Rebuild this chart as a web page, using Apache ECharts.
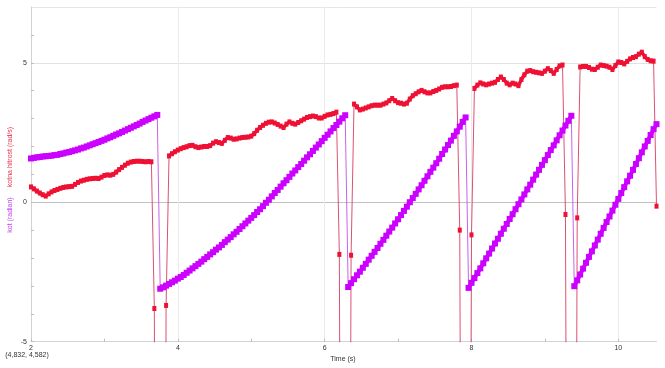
<!DOCTYPE html>
<html><head><meta charset="utf-8">
<script src="https://cdn.jsdelivr.net/npm/echarts@6/dist/echarts.min.js"></script>
<style>html,body{margin:0;padding:0;background:#fff}#c{width:665px;height:368px}</style>
</head><body><div id="c"></div>
<script>
// sample clock of the logger
const t0 = 2.0;   // s, first sample
const dt = 0.04;  // s, sample spacing

// kot (radian) – one row = 10 samples = 0.4 s
const kotRadian = [
  1.57,1.59,1.61,1.62,1.64,1.65,1.66,1.67,1.69,1.70,
  1.73,1.75,1.78,1.80,1.83,1.86,1.89,1.93,1.96,2.00,
  2.04,2.08,2.12,2.16,2.20,2.24,2.29,2.33,2.38,2.43,
  2.47,2.52,2.57,2.62,2.67,2.72,2.77,2.82,2.88,2.93,
  2.98,3.03,3.08,3.13,-3.10,-3.05,-2.99,-2.93,-2.87,-2.81,
  -2.74,-2.68,-2.61,-2.53,-2.45,-2.37,-2.29,-2.21,-2.13,-2.04,
  -1.96,-1.87,-1.79,-1.70,-1.62,-1.53,-1.43,-1.34,-1.25,-1.15,
  -1.06,-0.96,-0.86,-0.76,-0.66,-0.56,-0.46,-0.35,-0.25,-0.14,
  -0.02,0.09,0.21,0.33,0.44,0.56,0.68,0.79,0.91,1.03,
  1.14,1.26,1.37,1.49,1.61,1.72,1.84,1.96,2.07,2.19,
  2.31,2.42,2.54,2.66,2.77,2.89,3.01,3.12,-3.04,-2.90,
  -2.76,-2.62,-2.49,-2.35,-2.21,-2.06,-1.92,-1.78,-1.64,-1.49,
  -1.35,-1.20,-1.05,-0.91,-0.76,-0.61,-0.46,-0.31,-0.16,0.00,
  0.15,0.30,0.46,0.61,0.77,0.93,1.09,1.24,1.40,1.56,
  1.73,1.89,2.05,2.21,2.38,2.54,2.71,2.88,3.04,-3.07,
  -2.89,-2.72,-2.54,-2.37,-2.19,-2.01,-1.84,-1.66,-1.48,-1.31,
  -1.13,-0.95,-0.78,-0.60,-0.43,-0.25,-0.07,0.10,0.28,0.46,
  0.63,0.81,0.99,1.16,1.34,1.51,1.69,1.87,2.04,2.22,
  2.40,2.57,2.75,2.92,3.10,-3.01,-2.80,-2.59,-2.38,-2.17,
  -1.96,-1.76,-1.55,-1.34,-1.13,-0.92,-0.71,-0.51,-0.30,-0.09,
  0.12,0.33,0.54,0.75,0.95,1.16,1.37,1.58,1.79,2.00,
  2.20,2.41,2.62,2.80
];

// kotna hitrost (rad/s) – one row = 10 samples = 0.4 s
const kotnaHitrost = [
  0.55,0.48,0.40,0.33,0.27,0.22,0.30,0.37,0.42,0.46,
  0.50,0.53,0.55,0.56,0.57,0.64,0.71,0.76,0.79,0.82,
  0.84,0.85,0.86,0.85,0.90,0.96,0.98,0.97,1.00,1.08,
  1.17,1.25,1.33,1.40,1.44,1.46,1.47,1.47,1.46,1.45,
  1.46,1.45,-3.81,-40,-60,-40,-3.70,1.66,1.74,1.81,
  1.87,1.92,1.96,1.99,2.03,2.04,1.99,1.96,1.98,2.00,
  2.00,2.03,2.12,2.17,2.14,2.11,2.22,2.32,2.30,2.26,
  2.27,2.30,2.32,2.33,2.34,2.37,2.46,2.58,2.68,2.76,
  2.83,2.87,2.88,2.84,2.79,2.73,2.68,2.80,2.88,2.83,
  2.80,2.86,2.92,2.98,3.04,3.07,3.09,3.07,3.02,3.02,
  3.08,3.13,3.15,3.18,3.23,-1.87,-30,-50,-30,-1.90,
  3.52,3.42,3.31,3.34,3.38,3.42,3.46,3.48,3.48,3.48,
  3.52,3.56,3.64,3.72,3.64,3.57,3.55,3.52,3.55,3.70,
  3.82,3.89,3.96,4.01,3.96,3.92,3.92,3.97,4.01,4.06,
  4.12,4.14,4.14,4.15,4.18,4.20,-1.00,-30,-50,-30,
  -1.17,4.08,4.20,4.28,4.24,4.21,4.24,4.27,4.30,4.40,
  4.49,4.40,4.27,4.21,4.27,4.24,4.18,4.40,4.57,4.70,
  4.72,4.68,4.66,4.64,4.62,4.70,4.79,4.72,4.62,4.76,
  4.89,4.92,-0.44,-30,-50,-30,-0.56,4.85,4.87,4.87,
  4.83,4.77,4.76,4.84,4.92,4.90,4.88,4.84,4.76,4.90,
  5.03,5.01,4.96,5.05,5.14,5.19,5.22,5.31,5.38,5.22,
  5.12,5.07,5.06,-0.14
];

const xTickLabels = [2, 4, 6, 8, 10];
const yTickLabels = [-5, 0, 5];
const xRange = [2, 10.52];
const yRange = [-5, 7];

const FONT = '"Liberation Sans", Arial, sans-serif';
const timeOf = i => +(t0 + i * dt).toFixed(2);
const pairs = arr => arr.map((v, i) => [timeOf(i), v]);
// same samples, with the heavy trace interrupted where consecutive samples jump (wrap / derivative spike)
const pairsBroken = (arr, jump) => {
  const out = [];
  arr.forEach((v, i) => {
    if (i > 0 && Math.abs(v - arr[i - 1]) > jump) out.push([timeOf(i) - dt / 2, null]);
    out.push([timeOf(i), v]);
  });
  return out;
};

const PURPLE = '#cc00ff';
const RED = '#ee1133';

const chart = echarts.init(document.getElementById('c'), null, {renderer: 'canvas'});
chart.setOption({
  animation: false,
  backgroundColor: '#ffffff',
  grid: {left: 31, right: 8.5, top: 7, bottom: 26.3, containLabel: false, outerBoundsMode: 'none'},
  xAxis: [
    {
      type: 'value', min: xRange[0], max: xRange[1], interval: 1,
      axisLine: {show: true, onZero: false, lineStyle: {color: '#d2d2d2', width: 1}},
      axisTick: {show: true, inside: true, length: 3, lineStyle: {color: '#bdbdbd'}},
      axisLabel: {
        show: true, margin: 3, fontSize: 7, color: '#333', fontFamily: FONT,
        showMaxLabel: false, hideOverlap: false,
        formatter: v => (xTickLabels.includes(v) ? String(v) : '')
      },
      splitLine: {show: false}
    },
    {
      type: 'value', min: xRange[0], max: xRange[1], interval: 2, position: 'bottom',
      axisLine: {show: false}, axisTick: {show: false}, axisLabel: {show: false},
      splitLine: {show: true, showMaxLine: false, lineStyle: {color: '#ebebeb', width: 1}}
    }
  ],
  yAxis: [
    {
      type: 'value', min: yRange[0], max: yRange[1], interval: 1,
      axisLine: {show: true, onZero: false, lineStyle: {color: '#d2d2d2', width: 1}},
      axisTick: {show: true, inside: true, length: 3, lineStyle: {color: '#bdbdbd'}},
      axisLabel: {
        show: true, margin: 4, fontSize: 7, color: '#333', fontFamily: FONT,
        showMaxLabel: false, hideOverlap: false,
        formatter: v => (yTickLabels.includes(v) ? String(v) : '')
      },
      splitLine: {show: false}
    },
    {
      type: 'value', min: yRange[0], max: yRange[1], interval: 5, position: 'left',
      axisLine: {show: false}, axisTick: {show: false}, axisLabel: {show: false},
      splitLine: {show: true, lineStyle: {color: ['#d2d2d2', '#c2c2c2', '#e2e2e2', '#e6e6e6'], width: 1}}
    }
  ],
  series: [
    // thin connecting traces (incl. wrap jumps and spikes)
    {
      name: 'kot (radian)', type: 'line', data: pairs(kotRadian), clip: true,
      showSymbol: false, symbol: 'none',
      lineStyle: {color: 'rgba(196,80,230,0.9)', width: 1}, z: 2
    },
    {
      name: 'kotna hitrost (rad/s)', type: 'line', data: pairs(kotnaHitrost), clip: true,
      showSymbol: false, symbol: 'none',
      lineStyle: {color: 'rgba(212,50,90,0.85)', width: 1}, z: 2
    },
    // heavy traces with square markers
    {
      name: 'kot (radian)', type: 'line', data: pairsBroken(kotRadian, 2), clip: true,
      connectNulls: false, showAllSymbol: true,
      symbol: 'rect', symbolSize: 6,
      itemStyle: {color: PURPLE},
      lineStyle: {color: PURPLE, width: 4}, z: 3
    },
    {
      name: 'kotna hitrost (rad/s)', type: 'line', data: pairsBroken(kotnaHitrost, 2), clip: true,
      connectNulls: false, showAllSymbol: true,
      symbol: 'rect', symbolSize: [4, 5],
      itemStyle: {color: RED},
      lineStyle: {color: RED, width: 3.5}, z: 4
    }
  ],
  graphic: [
    {type: 'text', x: 10, y: 157, rotation: Math.PI / 2,
     style: {text: 'kotna hitrost (rad/s)', fill: '#e8324f', font: '7px ' + FONT, textAlign: 'center', textVerticalAlign: 'middle'}},
    {type: 'text', x: 10, y: 215, rotation: Math.PI / 2,
     style: {text: 'kot (radian)', fill: '#c03cf0', font: '7px ' + FONT, textAlign: 'center', textVerticalAlign: 'middle'}},
    {type: 'text', x: 343, y: 359,
     style: {text: 'Time (s)', fill: '#333', font: '7px ' + FONT, textAlign: 'center', textVerticalAlign: 'middle'}},
    {type: 'text', x: 27, y: 355,
     style: {text: '(4,832, 4,582)', fill: '#333', font: '7px ' + FONT, textAlign: 'center', textVerticalAlign: 'middle'}}
  ]
});
</script>
</body></html>
